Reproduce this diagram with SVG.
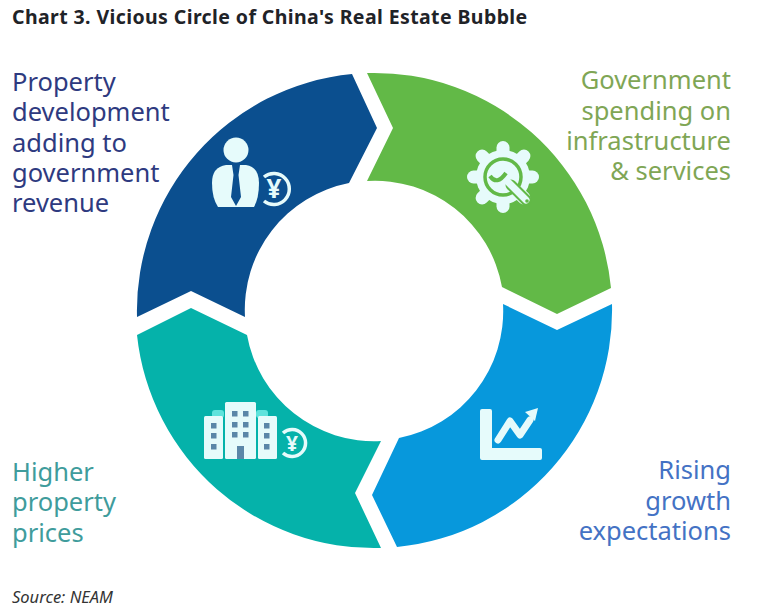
<svg xmlns="http://www.w3.org/2000/svg" width="759" height="612" viewBox="0 0 759 612">
<style>
text{font-family:"Noto Sans","Liberation Sans",sans-serif}
.lab{font-size:25.5px}
.r{text-anchor:end}
.ico{fill:#e6fbfb}
.ring{fill:none;stroke:#e6fbfb;stroke-width:3.5}
.yen{fill:#e6fbfb;font-weight:700;text-anchor:middle}
.tooth{stroke:#e6fbfb;stroke-width:13;stroke-linecap:round}
.win{fill:#5b87a8}
</style>
<rect width="759" height="612" fill="#fff"/>
<text x="12" y="24" font-size="19.5" font-weight="700" letter-spacing=".4" fill="#1f2328">Chart 3. Vicious Circle of China's Real Estate Bubble</text>
<g id="connectors"></g>
<g id="node-property-development">
<path d="M137 317A238 238 0 0 1 352 74L377 128L349 183A129 129 0 0 0 245 317L191 291Z" fill="#0b4f8f"/>
<circle class="ico" cx="236" cy="150" r="12.5"/>
<path class="ico" d="M226 165H246Q259 167 259 183Q259 198 254 207H218Q212 198 212 183Q212 167 226 165Z"/>
<path fill="#0b4f8f" d="M232 165H240L238.500 175L241 197L236 206L231 197L233.500 175Z"/>
<path class="ring" d="M264 177A15.500 15.500 0 1 1 264 201"/>
<text class="yen" x="274" y="198" font-size="26">¥</text>
<text class="lab" fill="#2e3a80"><tspan x="12" y="91">Property</tspan><tspan x="12" y="121">development</tspan><tspan x="12" y="152">adding to</tspan><tspan x="12" y="182">government</tspan><tspan x="12" y="212">revenue</tspan></text>
</g>
<g id="node-government-spending">
<path d="M367 73A238 238 0 0 1 611 288L557 314L502 287A129 129 0 0 0 367 181L393 128Z" fill="#62b947"/>
<circle class="ico" cx="503" cy="177" r="27"/>
<g class="tooth">
<line x1="503" y1="147.500" x2="503" y2="206.500"/>
<line x1="473.500" y1="177" x2="532.500" y2="177"/>
<line x1="482.100" y1="156.100" x2="523.900" y2="197.900"/>
<line x1="523.900" y1="156.100" x2="482.100" y2="197.900"/>
</g>
<circle cx="503" cy="177" r="18" fill="#e6fbfb" stroke="#62b947" stroke-width="3.500"/>
<line x1="511" y1="185" x2="526" y2="200" stroke="#62b947" stroke-width="11" stroke-linecap="round"/>
<line x1="506" y1="180" x2="526" y2="200" stroke="#e6fbfb" stroke-width="7" stroke-linecap="round"/>
<path d="M490 176Q497 186 506 173" fill="none" stroke="#62b947" stroke-width="4"/>
<circle cx="527" cy="201" r="1.800" fill="#62b947"/>
<text class="lab r" fill="#7fa655"><tspan x="731" y="89">Government</tspan><tspan x="731" y="120">spending on</tspan><tspan x="731" y="150">infrastructure</tspan><tspan x="731" y="180">&amp; services</tspan></text>
</g>
<g id="node-rising-growth">
<path d="M503 304L557 330L612 304A238 238 0 0 1 397 547L372 495L399 438A129 129 0 0 0 503 304Z" fill="#0798dc"/>
<path class="ico" d="M480 411Q480 409 482 409H490Q492 409 492 411V448H540Q542 448 542 450V458Q542 460 540 460H482Q480 460 480 458Z"/>
<path d="M498 440L510 421L520 435L530 420" fill="none" stroke="#e6fbfb" stroke-width="7" stroke-linecap="round" stroke-linejoin="round"/>
<path class="ico" d="M525 412L538 408L535 421Z"/>
<text class="lab r" fill="#4472c4"><tspan x="731" y="479">Rising</tspan><tspan x="731" y="510">growth</tspan><tspan x="731" y="540">expectations</tspan></text>
</g>
<g id="node-higher-prices">
<path d="M137 335L191 308L247 335A129 129 0 0 0 381 441L355 493L381 548A238 238 0 0 1 137 335Z" fill="#05b2aa"/>
<rect x="212" y="410" width="12" height="8" rx="3" fill="#5fe3dc"/>
<rect x="256" y="410" width="12" height="8" rx="3" fill="#5fe3dc"/>
<rect class="ico" x="204" y="416" width="19" height="43" rx="1.500"/>
<rect class="ico" x="225" y="402" width="31" height="57" rx="1.500"/>
<rect class="ico" x="258" y="416" width="19" height="43" rx="1.500"/>
<g class="win">
<rect x="211" y="423" width="5.500" height="5.500"/><rect x="211" y="433" width="5.500" height="5.500"/><rect x="211" y="444" width="5.500" height="5.500"/>
<rect x="232" y="411" width="5.500" height="5.500"/><rect x="243" y="411" width="5.500" height="5.500"/>
<rect x="232" y="422" width="5.500" height="5.500"/><rect x="243" y="422" width="5.500" height="5.500"/>
<rect x="232" y="432" width="5.500" height="5.500"/><rect x="243" y="432" width="5.500" height="5.500"/>
<rect x="264" y="423" width="5.500" height="5.500"/><rect x="264" y="433" width="5.500" height="5.500"/><rect x="264" y="444" width="5.500" height="5.500"/>
<rect x="237" y="446" width="7" height="13"/>
</g>
<path class="ring" d="M283 433A13.500 13.500 0 1 1 283 453"/>
<text class="yen" x="292" y="451" font-size="21">¥</text>
<text class="lab" fill="#3f9c9c"><tspan x="12" y="481">Higher</tspan><tspan x="12" y="511">property</tspan><tspan x="12" y="542">prices</tspan></text>
</g>
<text x="12" y="603" font-size="16.500" font-style="italic" fill="#333">Source: NEAM</text>
</svg>
